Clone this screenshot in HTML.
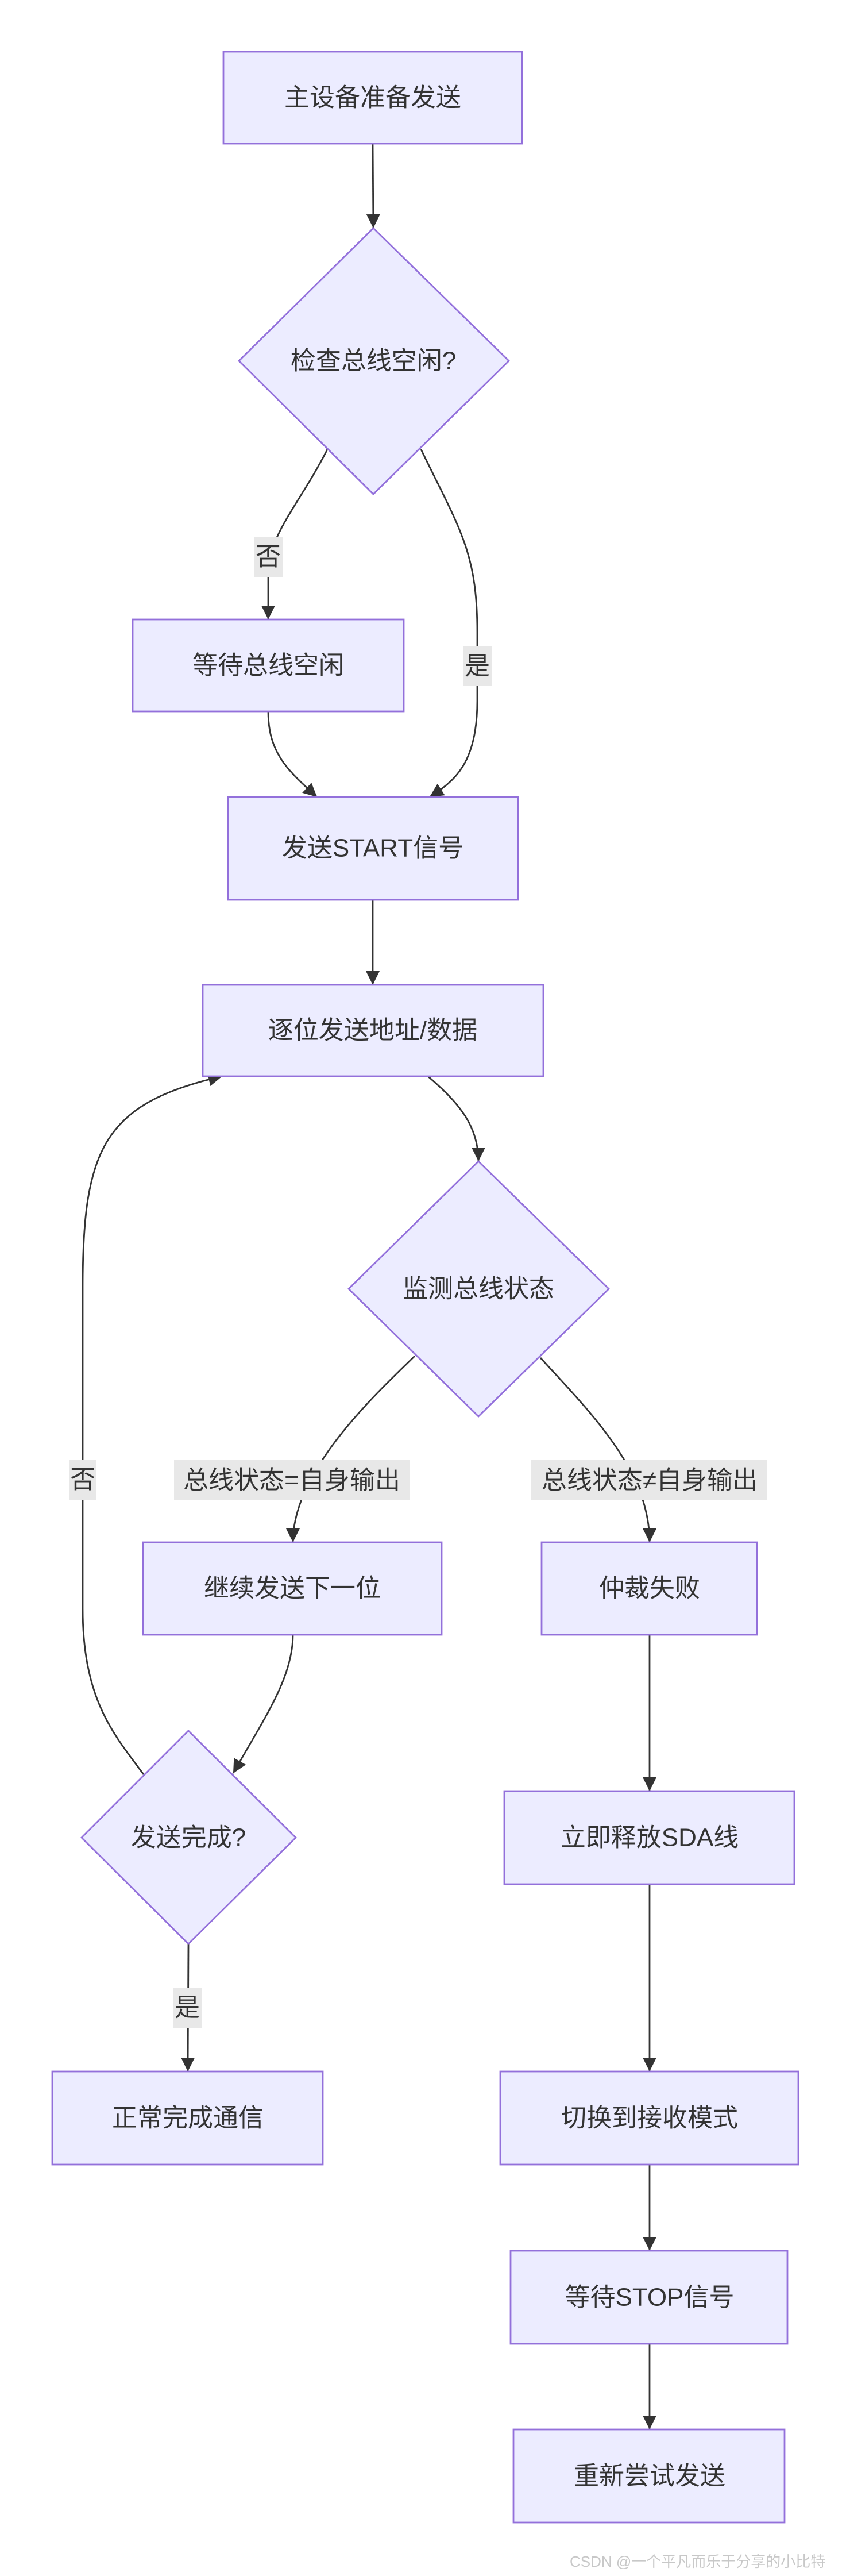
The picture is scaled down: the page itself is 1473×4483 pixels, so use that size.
<!DOCTYPE html>
<html><head><meta charset="utf-8"><style>
html,body{margin:0;padding:0;background:#fff;}
body{width:1473px;height:4483px;position:relative;overflow:hidden;font-family:"Liberation Sans","Noto Sans CJK SC",sans-serif;}
svg{position:absolute;left:0;top:0;}
.wm{position:absolute;left:992px;top:4438px;font-size:26px;color:#c8c8c8;white-space:nowrap;}
</style></head><body>
<svg width="1473" height="4483" viewBox="0 0 1473 4483" xmlns="http://www.w3.org/2000/svg">
<defs>
<marker id="ar" viewBox="0 0 10 10" refX="10" refY="5" markerWidth="24" markerHeight="24" markerUnits="userSpaceOnUse" orient="auto"><path d="M0,0 L10,5 L0,10 z" fill="#333"/></marker>
</defs>
<g fill="none" stroke="#333" stroke-width="2.8" marker-end="url(#ar)">
<path d="M649,250 L650,397"/>
<path d="M570,782 C520,880 467,930 467,1000 L467,1078"/>
<path d="M733,782 C800,920 831,960 831,1100 L831,1220 C831,1330 790,1360 748,1387"/>
<path d="M467,1238 C467,1310 500,1340 552,1387"/>
<path d="M649,1566 L649,1714"/>
<path d="M745,1873 C800,1920 833,1960 833,2021"/>
<path d="M722,2360 C650,2430 510,2560 510,2684"/>
<path d="M941,2363 C1030,2460 1131,2560 1131,2684"/>
<path d="M510,2845 C510,2920 460,2990 406,3086"/>
<path d="M250,3088 C200,3020 144,2960 144,2800 L144,2240 C144,2000 180,1920 387,1873"/>
<path d="M328,3383 L327,3605"/>
<path d="M1131,2845 L1131,3117"/>
<path d="M1131,3279 L1131,3605"/>
<path d="M1131,3767 L1131,3917"/>
<path d="M1131,4079 L1131,4228"/>
</g>
<g fill="#ececff" stroke="#9370db" stroke-width="2.8">
<rect x="389" y="90" width="520" height="160"/>
<polygon points="650,397 886,628 650,860 416,628"/>
<rect x="231" y="1078" width="472" height="160"/>
<rect x="397" y="1387" width="505" height="179"/>
<rect x="353" y="1714" width="593" height="159"/>
<polygon points="833,2021 1060,2243 833,2465 607,2243"/>
<rect x="249" y="2684" width="520" height="161"/>
<rect x="943" y="2684" width="375" height="161"/>
<polygon points="328,3012 515,3198 328,3383 142,3198"/>
<rect x="91" y="3605" width="471" height="162"/>
<rect x="878" y="3117" width="505" height="162"/>
<rect x="871" y="3605" width="519" height="162"/>
<rect x="889" y="3917" width="482" height="162"/>
<rect x="894" y="4228" width="472" height="162"/>
</g>
<g fill="#e8e8e8">
<rect x="443" y="934" width="49" height="70"/>
<rect x="807" y="1124" width="49" height="70"/>
<rect x="121" y="2540" width="47" height="70"/>
<rect x="303" y="2541" width="411" height="70"/>
<rect x="925" y="2541" width="411" height="70"/>
<rect x="302" y="3459" width="49" height="70"/>
</g>
<g font-family="Liberation Sans, Noto Sans CJK SC, sans-serif" font-size="44" fill="#333" text-anchor="middle" dominant-baseline="central">
<text x="649" y="170">主设备准备发送</text>
<text x="650" y="628">检查总线空闲?</text>
<text x="467" y="1158">等待总线空闲</text>
<text x="649" y="1476">发送START信号</text>
<text x="649" y="1793">逐位发送地址/数据</text>
<text x="833" y="2243">监测总线状态</text>
<text x="509" y="2764">继续发送下一位</text>
<text x="1131" y="2764">仲裁失败</text>
<text x="328" y="3198">发送完成?</text>
<text x="327" y="3686">正常完成通信</text>
<text x="1131" y="3198">立即释放SDA线</text>
<text x="1131" y="3686">切换到接收模式</text>
<text x="1131" y="3998">等待STOP信号</text>
<text x="1131" y="4309">重新尝试发送</text>
<text x="467" y="969">否</text>
<text x="831" y="1159">是</text>
<text x="144" y="2575">否</text>
<text x="508" y="2576">总线状态=自身输出</text>
<text x="1131" y="2576">总线状态≠自身输出</text>
<text x="326" y="3494">是</text>
</g>
</svg>
<div class="wm">CSDN @一个平凡而乐于分享的小比特</div>
</body></html>
